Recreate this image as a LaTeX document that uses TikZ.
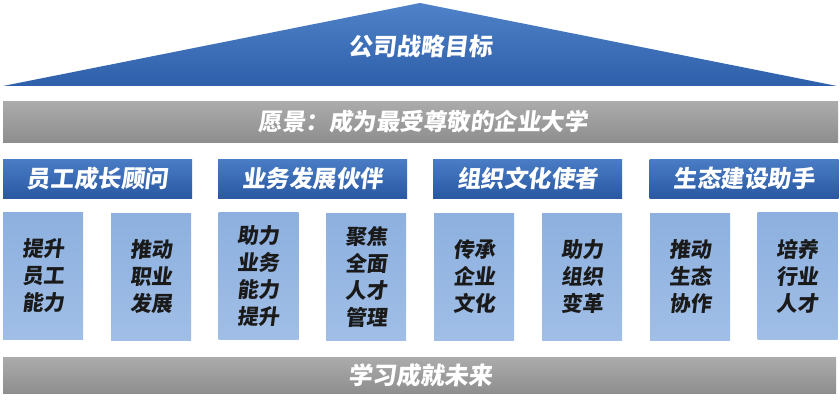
\documentclass[tikz,border=0pt]{standalone}
\usepackage{fontspec}
\newfontfamily\cjk[FakeSlant=0.12]{Noto Sans CJK SC}
\usetikzlibrary{positioning}
\definecolor{triTop}{HTML}{4F82C8}
\definecolor{triBot}{HTML}{2E5FAA}
\definecolor{hdTop}{HTML}{4A7DC6}
\definecolor{hdBot}{HTML}{2A58A3}
\definecolor{plTop}{HTML}{8DB0DF}
\definecolor{plBot}{HTML}{A0BEE6}
\definecolor{grTop}{HTML}{ABABAB}
\definecolor{grBot}{HTML}{8E8E8E}
\definecolor{pltext}{HTML}{1A1A1A}
\tikzset{
  graybar/.style={draw=none, top color=grTop, bottom color=grBot, minimum height=40pt, inner sep=0pt},
  header/.style={draw=none, top color=hdTop, bottom color=hdBot, minimum width=189pt, minimum height=39pt, inner sep=0pt, text=white, font=\cjk\bfseries\fontsize{23.5}{25}\selectfont},
  pillar/.style={draw=none, top color=plTop, bottom color=plBot, minimum width=80pt, minimum height=127pt, inner sep=0pt, text=pltext, align=center, font=\cjk\bfseries\fontsize{21}{27}\selectfont},
  wtext/.style={text=white, font=\cjk\bfseries\fontsize{23.5}{25}\selectfont, inner sep=0pt}
}
\begin{document}
\begin{tikzpicture}[x=1pt,y=-1pt]
\useasboundingbox (0,0) rectangle (840,401);
% roof
\path[top color=triTop, bottom color=triBot] (3,86) -- (420,3) -- (837,86) -- cycle;
\node[wtext, font=\cjk\bfseries\fontsize{24}{26}\selectfont] (goal) at (420,46) {公司战略目标};
% vision bar
\node[graybar, minimum width=835pt, minimum height=40pt] (vision) at (420.5,122) {};
\node[wtext] (visiontext) at (423,122) {愿景：成为最受尊敬的企业大学};
% headers
\node[header] (h1) at (97.5,178.5) {员工成长顾问};
\node[header] (h2) at (312.5,178.5) {业务发展伙伴};
\node[header] (h3) at (527.5,178.5) {组织文化使者};
\node[header] (h4) at (744,178.5) {生态建设助手};
% pillars
\node[pillar] (p1) at (43,275.5) {提升\\员工\\能力};
\node[pillar] (p2) at (151,276.5) {推动\\职业\\发展};
\node[pillar] (p3) at (258.5,276) {助力\\业务\\能力\\提升};
\node[pillar] (p4) at (366,276.5) {聚焦\\全面\\人才\\管理};
\node[pillar] (p5) at (474,276.5) {传承\\企业\\文化};
\node[pillar] (p6) at (582,276.5) {助力\\组织\\变革};
\node[pillar] (p7) at (690,276.5) {推动\\生态\\协作};
\node[pillar] (p8) at (797.5,276) {培养\\行业\\人才};
% base bar
\node[graybar, minimum width=833pt, minimum height=36pt] (base) at (419.5,375.5) {};
\node[wtext, font=\cjk\bfseries\fontsize{24}{26}\selectfont] (basetext) at (420,375.5) {学习成就未来};
\end{tikzpicture}
\end{document}
